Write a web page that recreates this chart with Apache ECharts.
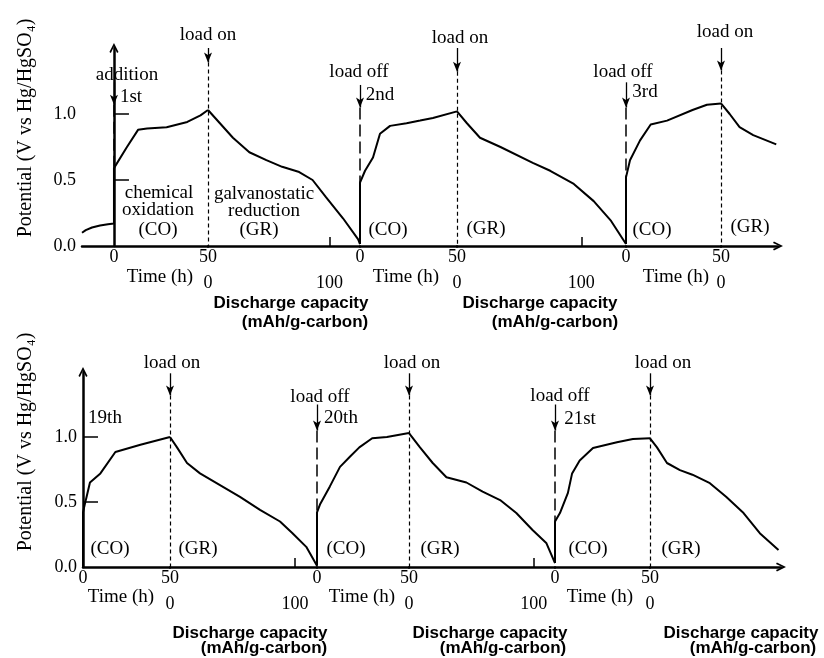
<!DOCTYPE html>
<html>
<head>
<meta charset="utf-8">
<script src="https://cdn.jsdelivr.net/npm/echarts@6/dist/echarts.min.js"></script>
<style>
html,body{margin:0;padding:0;background:#fff}
#main{width:824px;height:658px}
</style>
</head>
<body>
<div id="main"></div>
<script>
// tick labels
var potTicks = [0, 0.5, 1.0];
var timeTicks = [0, 50];
var capTicks = [0, 100];

// upper panel (1st..3rd cycle): [time (h) or capacity (mAh/g), potential (V)]
var upCO1 = [[-17,0.10],[-15,0.12],[-11.7,0.14],[-7.4,0.155],[-3.2,0.165],[0,0.17],[0,0.59],[6.9,0.75],[12.8,0.88],[17.6,0.89],[28,0.90],[39,0.94],[46,0.99],[50,1.03]];
var upGR1 = [[0,1.03],[9.8,0.93],[20.5,0.82],[34,0.71],[48,0.65],[61,0.60],[75,0.56],[86,0.50],[97,0.37],[111,0.21],[123.5,0.05],[125,0.015]];
var upCO2 = [[0,0.015],[0,0.48],[2.6,0.57],[6.7,0.67],[10.3,0.85],[15.5,0.91],[24,0.93],[31,0.95],[37.6,0.97],[50,1.02]];
var upGR2 = [[0,1.02],[8,0.93],[18.5,0.82],[35,0.75],[61,0.63],[75,0.57],[94,0.47],[110,0.34],[124,0.19],[136,0.015]];
var upCO3 = [[0,0.015],[0,0.52],[2.1,0.65],[7.4,0.80],[13,0.92],[21.6,0.95],[35,1.03],[42.6,1.07],[50,1.08]];
var upGR3 = [[0,1.08],[7,1.0],[15,0.90],[26,0.84],[44.6,0.77]];

// lower panel (19th..21st cycle)
var loCO1 = [[0,0],[0,0.42],[1.7,0.52],[4,0.65],[10,0.72],[18.6,0.885],[33,0.94],[50,1.0]];
var loGR1 = [[0,1.0],[5.6,0.92],[13.6,0.80],[24,0.72],[40,0.63],[56,0.54],[72,0.44],[88,0.35],[98,0.26],[109,0.155],[117.6,0.01]];
var loCO2 = [[0,0.01],[0,0.42],[1.6,0.48],[7,0.62],[12.5,0.77],[18,0.85],[23,0.92],[30,0.99],[38,1.0],[50,1.03]];
var loGR2 = [[0,1.03],[8.8,0.92],[19,0.80],[30,0.69],[46,0.65],[59,0.58],[73,0.515],[86,0.415],[99,0.285],[110,0.185],[117,0.03]];
var loCO3 = [[0,0.03],[0,0.35],[2.6,0.415],[6.8,0.57],[9,0.72],[13,0.82],[20,0.915],[32.6,0.96],[41,0.985],[50,0.99]];
var loGR3 = [[0,0.99],[5.6,0.92],[13.6,0.80],[24,0.745],[34,0.71],[48,0.645],[61,0.54],[75,0.415],[88,0.26],[103,0.13]];

// axis extents of each segment
var upRanges = [[-17,50],[0,125],[0,50],[0,136],[0,50],[0,46]];
var loRanges = [[0,50],[0,117.6],[0,50],[0,117],[0,50],[0,105]];

var kinds = ['CO','GR','CO','GR','CO','GR'];
var serif = '"Liberation Serif", "DejaVu Serif", serif';
var sans = '"Liberation Sans", Arial, sans-serif';
var chev = 'path://M0,10 L5,0 L10,10 L8.4,11 L5,3.8 L1.6,11 Z';

var option = {
    animation: false,
    backgroundColor: '#fff',
    grid: [], xAxis: [], yAxis: [], series: [], graphic: []
};

// marks: [segment, x, arrow top, arrow tip, dash end, kind]
function addPanel(edges, top, axisY, segs, ranges, marks) {
    segs.forEach(function (data, i) {
        var gi = option.grid.length;
        var co = kinds[i] === 'CO';
        var last = i === segs.length - 1;
        option.grid.push({
            left: edges[i], width: edges[i + 1] - edges[i],
            top: top, height: axisY - top, outerBoundsMode: 'none'
        });
        option.xAxis.push({
            type: 'value', gridIndex: gi, min: ranges[i][0], max: ranges[i][1],
            axisLine: {
                show: true, onZero: false,
                lineStyle: {color: '#000', width: 2.5},
                symbol: last ? ['none', chev] : 'none',
                symbolSize: [13, 10]
            },
            axisTick: (co || last) ? {show: false} : {show: true, inside: true, length: 9, customValues: [100], lineStyle: {color: '#000', width: 1.5}},
            axisLabel: {
                customValues: co ? timeTicks : (last ? capTicks.slice(0, 1) : capTicks),
                margin: co ? 2 : 28, color: '#000', fontFamily: serif, fontSize: 18
            },
            splitLine: {show: false}
        });
        option.yAxis.push({
            type: 'value', gridIndex: gi, min: 0, max: 1.5, show: i === 0,
            axisLine: {show: true, lineStyle: {color: '#000', width: 2.5}, symbol: ['none', chev], symbolSize: [13, 10]},
            axisTick: {show: true, inside: true, length: 15, customValues: [0.5, 1], lineStyle: {color: '#000', width: 1.5}},
            axisLabel: {
                customValues: potTicks, margin: 6, color: '#000', fontFamily: serif, fontSize: 18,
                formatter: function (v) { return v.toFixed(1); }
            },
            splitLine: {show: false}
        });
        var ml = [];
        marks.forEach(function (m) {
            if (m[0] !== i) return;
            var on = m[5] === 'on';
            ml.push([
                {coord: [m[1], m[2]], symbol: 'none', lineStyle: {type: 'solid', width: 1.3, color: '#000'}},
                {coord: [m[1], m[3]], symbol: 'arrow', symbolSize: [6, 10]}
            ]);
            ml.push([
                {coord: [m[1], m[3]], symbol: 'none', lineStyle: {type: on ? [4, 3] : [12, 5], width: on ? 1.2 : 1.5, color: '#000'}},
                {coord: [m[1], m[4]], symbol: 'none'}
            ]);
        });
        option.series.push({
            type: 'line', xAxisIndex: gi, yAxisIndex: gi, data: data,
            symbol: 'none', silent: true,
            lineStyle: {color: '#000', width: 2},
            markLine: {silent: true, symbol: ['none', 'none'], label: {show: false}, data: ml}
        });
    });
}

addPanel([82, 208, 360, 457, 626, 721, 778], 48, 246,
    [upCO1, upGR1, upCO2, upGR2, upCO3, upGR3], upRanges,
    [[0, 0, 1.24, 1.07, 0.6, 'off'], [0, 50, 1.5, 1.39, 0, 'on'],
     [2, 0, 1.22, 1.05, 0.48, 'off'], [2, 50, 1.5, 1.32, 0, 'on'],
     [4, 0, 1.24, 1.05, 0.52, 'off'], [4, 50, 1.5, 1.33, 0, 'on']]);

addPanel([83, 170, 317, 409, 555, 650, 781], 372, 567,
    [loCO1, loGR1, loCO2, loGR2, loCO3, loGR3], loRanges,
    [[0, 50, 1.49, 1.32, 0, 'on'],
     [2, 0, 1.25, 1.05, 0.42, 'off'], [2, 50, 1.49, 1.32, 0, 'on'],
     [4, 0, 1.25, 1.05, 0.35, 'off'], [4, 50, 1.49, 1.32, 0, 'on']]);

function txt(t, x, y, font, rot) {
    option.graphic.push({
        type: 'text', x: x, y: y, rotation: rot || 0, silent: true,
        style: {text: t, font: font, fill: '#000', align: 'center', verticalAlign: 'middle'}
    });
}
var fs = '19px ' + serif;
var fsans = 'bold 17px ' + sans;
var fname = '20px ' + serif;

// upper panel texts
txt('load on', 208, 35, fs); txt('addition', 127, 75, fs); txt('1st', 131, 97, fs);
txt('load off', 359, 72, fs); txt('2nd', 380, 95, fs);
txt('load on', 460, 38, fs); txt('load off', 623, 72, fs); txt('3rd', 645, 92, fs);
txt('load on', 725, 32, fs);
txt('chemical', 159, 193, fs); txt('oxidation', 158, 210, fs); txt('(CO)', 158, 230, fs);
txt('galvanostatic', 264, 194, fs); txt('reduction', 264, 211, fs); txt('(GR)', 259, 230, fs);
txt('(CO)', 388, 230, fs); txt('(GR)', 486, 229, fs);
txt('(CO)', 652, 230, fs); txt('(GR)', 750, 227, fs);
txt('Time (h)', 160, 277, fs); txt('Time (h)', 406, 277, fs); txt('Time (h)', 676, 277, fs);
txt('Discharge capacity', 291, 303, fsans); txt('(mAh/g-carbon)', 305, 322, fsans);
txt('Discharge capacity', 540, 303, fsans); txt('(mAh/g-carbon)', 555, 322, fsans);
txt('Potential (V vs Hg/HgSO\u2084)', 26, 128, fname, Math.PI / 2);

// lower panel texts
txt('load on', 172, 363, fs); txt('19th', 105, 418, fs);
txt('load off', 320, 397, fs); txt('20th', 341, 418, fs);
txt('load on', 412, 363, fs);
txt('load off', 560, 396, fs); txt('21st', 580, 419, fs);
txt('load on', 663, 363, fs);
txt('(CO)', 110, 549, fs); txt('(GR)', 198, 549, fs);
txt('(CO)', 346, 549, fs); txt('(GR)', 440, 549, fs);
txt('(CO)', 588, 549, fs); txt('(GR)', 681, 549, fs);
txt('Time (h)', 121, 597, fs); txt('Time (h)', 362, 597, fs); txt('Time (h)', 600, 597, fs);
txt('Discharge capacity', 250, 633, fsans); txt('(mAh/g-carbon)', 264, 648, fsans);
txt('Discharge capacity', 490, 633, fsans); txt('(mAh/g-carbon)', 503, 648, fsans);
txt('Discharge capacity', 741, 633, fsans); txt('(mAh/g-carbon)', 753, 648, fsans);
txt('Potential (V vs Hg/HgSO\u2084)', 26, 442, fname, Math.PI / 2);

var myChart = echarts.init(document.getElementById('main'));
myChart.setOption(option);
</script>
</body>
</html>
